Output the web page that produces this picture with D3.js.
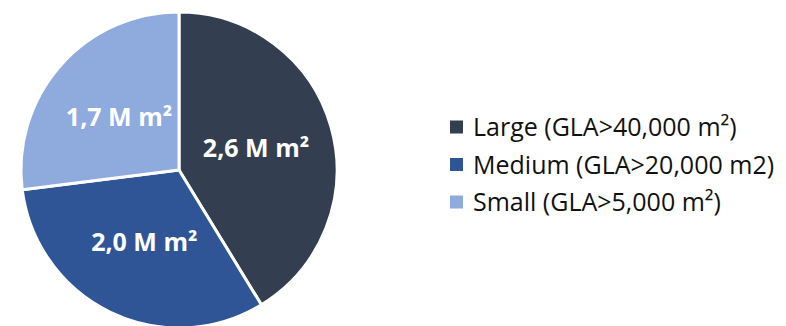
<!DOCTYPE html>
<html>
<head>
<meta charset="UTF-8">
<title>GLA pie</title>
<script src="https://cdn.jsdelivr.net/npm/d3@7"></script>
<style>
  body { margin: 0; background: #fff; }
  svg { display: block; }
  .slice-label { fill: #fff; font-family: "Open Sans", sans-serif; font-weight: bold; }
  .legend text { fill: #111; font-family: "Open Sans", sans-serif; }
</style>
</head>
<body>
<svg width="786" height="326"></svg>
<script>
  // data
  var categories = ["Large (GLA>40,000 m²)", "Medium (GLA>20,000 m2)", "Small (GLA>5,000 m²)"]
  var values = [2.6, 2.0, 1.7]
  var labels = ["2,6 M m²", "2,0 M m²", "1,7 M m²"]
  var colors = ["#333f50", "#2f5597", "#8faadc"]

  var svg = d3.select("svg")
  var cx = 179, cy = 170, radius = 158

  var pie = d3.pie().sort(null).value(function(d) { return d })
  var arc = d3.arc().innerRadius(0).outerRadius(radius)
  var labelArc = d3.arc().innerRadius(80).outerRadius(80)

  var color = d3.scaleOrdinal().domain(d3.range(values.length)).range(colors)

  var g = svg.append("g").attr("transform", "translate(" + cx + "," + cy + ")")
  var arcs = pie(values)

  g.selectAll("path")
    .data(arcs)
    .enter().append("path")
    .attr("d", arc)
    .attr("fill", function(d, i) { return color(i) })
    .attr("stroke", "#fff")
    .attr("stroke-width", 3)
    .attr("stroke-linejoin", "round")

  g.selectAll("text")
    .data(arcs)
    .enter().append("text")
    .attr("class", "slice-label")
    .attr("transform", function(d) { return "translate(" + labelArc.centroid(d) + ")" })
    .attr("text-anchor", "middle")
    .attr("dy", "0.36em")
    .style("font-size", "25px")
    .text(function(d, i) { return labels[i] })

  var legend = svg.append("g").attr("class", "legend").attr("transform", "translate(450,127)")
  var rowY = d3.scalePoint().domain(categories).range([0, 75])

  var rows = legend.selectAll("g")
    .data(categories)
    .enter().append("g")
    .attr("transform", function(d) { return "translate(0," + rowY(d) + ")" })

  rows.append("rect")
    .attr("x", 0).attr("y", -6.5)
    .attr("width", 13).attr("height", 13)
    .attr("fill", function(d, i) { return color(i) })

  rows.append("text")
    .attr("x", 23)
    .attr("dy", "0.36em")
    .style("font-size", "25px")
    .text(function(d) { return d })
</script>
</body>
</html>
